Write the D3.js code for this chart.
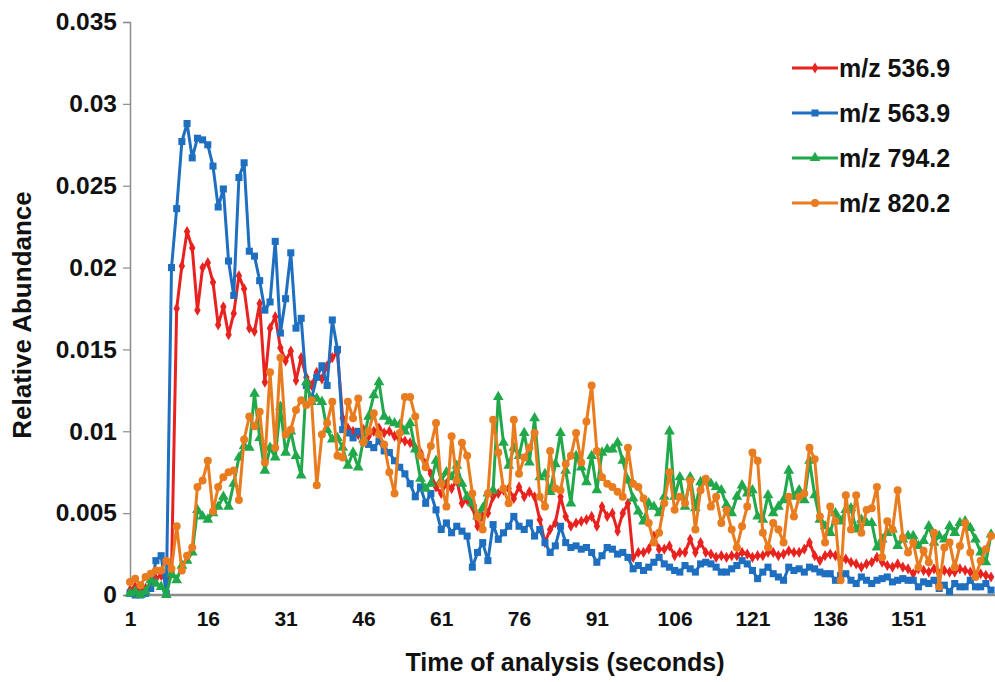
<!DOCTYPE html>
<html>
<head>
<meta charset="utf-8">
<script src="https://cdnjs.cloudflare.com/ajax/libs/d3/7.8.5/d3.min.js"></script>
<style>
body{margin:0;background:#fff;}
svg{display:block;font-family:"Liberation Sans",Arial,sans-serif;font-weight:bold;}
</style>
</head>
<body>
<svg id="chart"></svg>
<script>
// time points 1..167 (seconds)
var seconds = d3.range(1,168);

var mz5369 = [
0.0003,0.0005,0.0002,0.0004,0.0006,0.0010,0.0012,0.0008,0.0014,0.0175,
0.0201,0.0222,0.0212,0.0174,0.0200,0.0203,0.0191,0.0165,0.0176,0.0159,
0.0172,0.0195,0.0187,0.0163,0.0161,0.0178,0.0130,0.0163,0.0170,0.0151,
0.0143,0.0149,0.0131,0.0145,0.0133,0.0128,0.0136,0.0132,0.0140,0.0145,
0.0148,0.0108,0.0102,0.0100,0.0098,0.0101,0.0097,0.0100,0.0102,0.0099,
0.0100,0.0097,0.0095,0.0094,0.0093,0.0090,0.0087,0.0080,0.0074,0.0066,
0.0062,0.0068,0.0065,0.0070,0.0056,0.0058,0.0054,0.0042,0.0048,0.0050,
0.0060,0.0062,0.0064,0.0065,0.0059,0.0066,0.0060,0.0063,0.0060,0.0046,
0.0032,0.0040,0.0044,0.0060,0.0048,0.0042,0.0044,0.0045,0.0046,0.0048,
0.0042,0.0054,0.0048,0.0050,0.0039,0.0050,0.0056,0.0023,0.0026,0.0026,
0.0028,0.0036,0.0028,0.0028,0.0030,0.0024,0.0026,0.0026,0.0034,0.0026,
0.0032,0.0026,0.0025,0.0023,0.0024,0.0023,0.0024,0.0024,0.0026,0.0025,
0.0023,0.0024,0.0024,0.0026,0.0026,0.0024,0.0025,0.0027,0.0026,0.0026,
0.0028,0.0032,0.0024,0.0021,0.0024,0.0025,0.0024,0.0021,0.0022,0.0020,
0.0019,0.0017,0.0019,0.0020,0.0023,0.0020,0.0018,0.0017,0.0019,0.0017,
0.0016,0.0013,0.0016,0.0015,0.0014,0.0016,0.0013,0.0015,0.0014,0.0014,
0.0016,0.0015,0.0014,0.0012,0.0013,0.0012,0.0011];

var mz5639 = [
0.0001,0.0000,0.0000,0.0001,0.0004,0.0021,0.0024,0.0001,0.0200,0.0236,
0.0277,0.0288,0.0267,0.0279,0.0278,0.0275,0.0262,0.0237,0.0248,0.0204,
0.0183,0.0255,0.0264,0.0210,0.0207,0.0192,0.0174,0.0179,0.0216,0.0160,
0.0181,0.0209,0.0163,0.0169,0.0128,0.0120,0.0133,0.0140,0.0128,0.0168,
0.0150,0.0101,0.0099,0.0096,0.0100,0.0095,0.0092,0.0090,0.0094,0.0088,
0.0087,0.0082,0.0078,0.0074,0.0068,0.0060,0.0066,0.0056,0.0062,0.0052,
0.0040,0.0044,0.0038,0.0042,0.0039,0.0036,0.0017,0.0026,0.0032,0.0021,
0.0043,0.0034,0.0038,0.0042,0.0048,0.0042,0.0040,0.0044,0.0036,0.0040,
0.0032,0.0026,0.0030,0.0042,0.0032,0.0029,0.0030,0.0028,0.0029,0.0026,
0.0020,0.0024,0.0029,0.0028,0.0025,0.0026,0.0023,0.0016,0.0018,0.0015,
0.0017,0.0020,0.0023,0.0019,0.0017,0.0015,0.0014,0.0018,0.0016,0.0014,
0.0019,0.0020,0.0019,0.0017,0.0014,0.0014,0.0016,0.0018,0.0021,0.0019,
0.0015,0.0010,0.0014,0.0017,0.0013,0.0011,0.0009,0.0017,0.0015,0.0016,
0.0014,0.0017,0.0016,0.0014,0.0013,0.0013,0.0009,0.0012,0.0013,0.0009,
0.0007,0.0011,0.0009,0.0007,0.0009,0.0010,0.0011,0.0008,0.0009,0.0010,
0.0009,0.0009,0.0005,0.0008,0.0007,0.0009,0.0004,0.0006,0.0002,0.0007,
0.0005,0.0005,0.0009,0.0005,0.0005,0.0007,0.0003];

var mz7942 = [
0.0001,0.0002,0.0000,0.0002,0.0009,0.0007,0.0005,0.0000,0.0013,0.0009,
0.0018,0.0021,0.0026,0.0052,0.0048,0.0046,0.0050,0.0054,0.0060,0.0054,
0.0068,0.0084,0.0091,0.0090,0.0123,0.0096,0.0076,0.0090,0.0084,0.0115,
0.0087,0.0100,0.0085,0.0073,0.0130,0.0118,0.0120,0.0118,0.0101,0.0095,
0.0096,0.0090,0.0079,0.0087,0.0078,0.0095,0.0109,0.0122,0.0130,0.0109,
0.0106,0.0105,0.0104,0.0100,0.0105,0.0089,0.0071,0.0065,0.0068,0.0082,
0.0070,0.0075,0.0072,0.0079,0.0068,0.0060,0.0056,0.0048,0.0053,0.0062,
0.0064,0.0121,0.0093,0.0079,0.0090,0.0085,0.0099,0.0081,0.0108,0.0072,
0.0074,0.0063,0.0080,0.0099,0.0076,0.0056,0.0085,0.0078,0.0069,0.0085,
0.0064,0.0087,0.0089,0.0089,0.0093,0.0082,0.0070,0.0059,0.0051,0.0045,
0.0056,0.0054,0.0050,0.0060,0.0100,0.0060,0.0072,0.0054,0.0072,0.0053,
0.0069,0.0070,0.0068,0.0066,0.0064,0.0055,0.0050,0.0060,0.0067,0.0062,
0.0064,0.0048,0.0046,0.0061,0.0050,0.0054,0.0058,0.0076,0.0060,0.0064,
0.0058,0.0082,0.0061,0.0046,0.0042,0.0038,0.0050,0.0045,0.0052,0.0053,
0.0040,0.0046,0.0044,0.0044,0.0029,0.0034,0.0038,0.0040,0.0030,0.0034,
0.0036,0.0036,0.0030,0.0033,0.0042,0.0032,0.0036,0.0034,0.0042,0.0038,
0.0044,0.0045,0.0041,0.0034,0.0026,0.0020,0.0037];

var mz8202 = [
0.0008,0.0010,0.0006,0.0011,0.0013,0.0015,0.0015,0.0021,0.0016,0.0042,
0.0015,0.0024,0.0029,0.0066,0.0070,0.0082,0.0051,0.0066,0.0072,0.0075,
0.0076,0.0058,0.0095,0.0109,0.0103,0.0112,0.0081,0.0136,0.0090,0.0145,
0.0098,0.0101,0.0113,0.0119,0.0116,0.0119,0.0067,0.0098,0.0105,0.0118,
0.0085,0.0084,0.0118,0.0108,0.0120,0.0093,0.0100,0.0111,0.0098,0.0092,
0.0075,0.0062,0.0099,0.0121,0.0121,0.0109,0.0085,0.0078,0.0091,0.0105,
0.0068,0.0054,0.0097,0.0070,0.0093,0.0085,0.0062,0.0048,0.0040,0.0062,
0.0107,0.0087,0.0065,0.0056,0.0107,0.0074,0.0084,0.0090,0.0099,0.0060,
0.0054,0.0088,0.0065,0.0064,0.0080,0.0085,0.0099,0.0081,0.0106,0.0128,
0.0088,0.0072,0.0068,0.0066,0.0063,0.0060,0.0090,0.0068,0.0066,0.0059,
0.0044,0.0032,0.0038,0.0056,0.0075,0.0052,0.0060,0.0056,0.0070,0.0040,
0.0064,0.0071,0.0054,0.0060,0.0044,0.0052,0.0040,0.0029,0.0042,0.0054,
0.0087,0.0082,0.0038,0.0029,0.0044,0.0040,0.0032,0.0060,0.0048,0.0060,
0.0062,0.0090,0.0083,0.0048,0.0032,0.0054,0.0045,0.0009,0.0061,0.0040,
0.0061,0.0038,0.0052,0.0053,0.0066,0.0023,0.0045,0.0040,0.0064,0.0035,
0.0026,0.0032,0.0017,0.0027,0.0020,0.0038,0.0005,0.0029,0.0032,0.0017,
0.0030,0.0044,0.0026,0.0011,0.0021,0.0028,0.0036];

var seriesNames = ["m/z 536.9","m/z 563.9","m/z 794.2","m/z 820.2"];
var seriesColors = ["#e8221f","#1f6fc0","#21a84a","#e87c1f"];
var seriesShapes = [d3.symbolDiamond, d3.symbolSquare, d3.symbolTriangle, d3.symbolCircle];
var seriesValues = [mz5369, mz5639, mz7942, mz8202];

var xTickValues = [1,16,31,46,61,76,91,106,121,136,151];
var yTickValues = [0,0.005,0.01,0.015,0.02,0.025,0.03,0.035];
var yTickLabels = ["0","0.005","0.01","0.015","0.02","0.025","0.03","0.035"];

var screen = {width:995, height:682};
var margins = {top:22, bottom:87, left:130, right:4};

var svg = d3.select("#chart")
            .attr("width",screen.width)
            .attr("height",screen.height);

var xScale = d3.scaleLinear()
               .domain([1,167])
               .range([margins.left, margins.left + 166*5.187]);

var yScale = d3.scaleLinear()
               .domain([0,0.035])
               .range([screen.height - margins.bottom, margins.top]);

// y axis
var yAxis = d3.axisLeft(yScale)
              .tickValues(yTickValues)
              .tickFormat(function(d,i){ return yTickLabels[i]; })
              .tickSize(7)
              .tickPadding(6);

var gy = svg.append("g")
   .attr("transform","translate("+margins.left+",0)")
   .call(yAxis);
gy.select(".domain").attr("stroke","#8c8c8c").attr("stroke-width",1.5);
gy.selectAll(".tick line").attr("stroke","#8c8c8c").attr("stroke-width",1.2);
gy.selectAll("text").attr("font-size","24.5px").attr("fill","#111")
  .attr("font-family","Liberation Sans, Arial, sans-serif").attr("font-weight","bold");

// x axis
var xAxis = d3.axisBottom(xScale)
              .tickValues(xTickValues)
              .tickSize(0)
              .tickPadding(16);

var gx = svg.append("g")
   .attr("transform","translate(0,"+yScale(0)+")")
   .call(xAxis);
gx.select(".domain").remove();
gx.selectAll("text").attr("font-size","21px").attr("fill","#111")
  .attr("font-family","Liberation Sans, Arial, sans-serif").attr("font-weight","bold");

svg.append("line")
   .attr("x1",margins.left).attr("x2",screen.width)
   .attr("y1",yScale(0)).attr("y2",yScale(0))
   .attr("stroke","#8c8c8c")
   .attr("stroke-width",2.5);

// series lines + markers
var line = d3.line()
             .x(function(d,i){ return xScale(seconds[i]); })
             .y(function(d){ return yScale(d); });

seriesValues.forEach(function(vals,k){
  var g = svg.append("g").attr("class","series");
  g.append("path")
   .datum(vals)
   .attr("d",line)
   .attr("fill","none")
   .attr("stroke",seriesColors[k])
   .attr("stroke-width",3)
   .attr("stroke-linejoin","round");
  g.selectAll("path.mark")
   .data(vals)
   .enter()
   .append("path")
   .attr("class","mark")
   .attr("d",d3.symbol().type(seriesShapes[k]).size(k==0 ? 36 : 50))
   .attr("transform",function(d,i){ return "translate("+xScale(seconds[i])+","+yScale(d)+")"; })
   .attr("fill",seriesColors[k]);
});

// axis titles
svg.append("text")
   .attr("x",565)
   .attr("y",671)
   .attr("text-anchor","middle")
   .attr("font-size","25px")
   .attr("fill","#111")
   .text("Time of analysis (seconds)");

svg.append("text")
   .attr("transform","translate(31,315) rotate(-90)")
   .attr("text-anchor","middle")
   .attr("font-size","26px")
   .attr("fill","#111")
   .text("Relative Abundance");

// legend
var legend = svg.append("g").attr("transform","translate(792,68)");
seriesNames.forEach(function(name,k){
  var row = legend.append("g").attr("transform","translate(0,"+(k*45)+")");
  row.append("line")
     .attr("x1",0).attr("x2",46)
     .attr("stroke",seriesColors[k])
     .attr("stroke-width",3);
  row.append("path")
     .attr("d",d3.symbol().type(seriesShapes[k]).size(k==0 ? 36 : 50))
     .attr("transform","translate(23,0)")
     .attr("fill",seriesColors[k]);
  row.append("text")
     .attr("x",47)
     .attr("y",9)
     .attr("font-size","25px")
     .attr("fill","#111")
     .text(name);
});
</script>
</body>
</html>
